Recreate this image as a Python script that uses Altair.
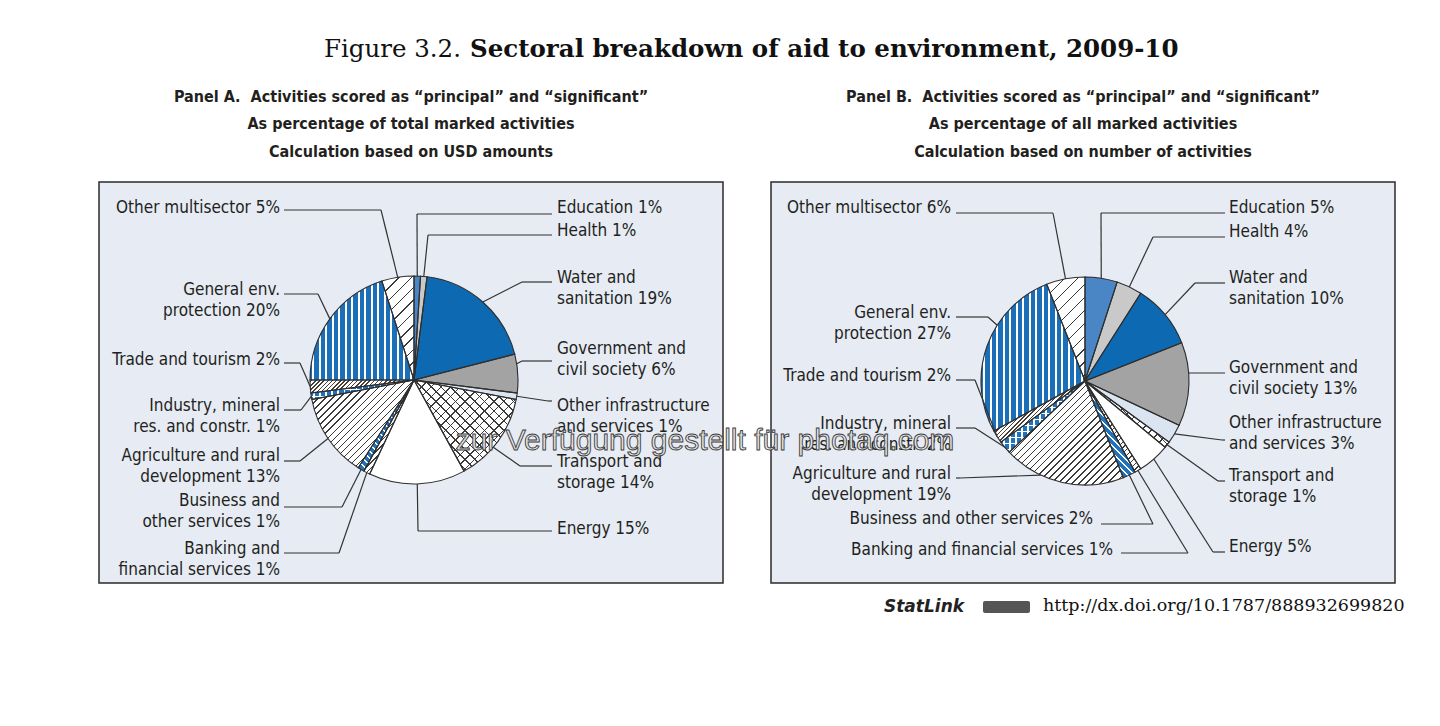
import altair as alt
import numpy as np
import pandas as pd

# ---------------- data ----------------
sectors = [
    "Education", "Health", "Water and sanitation", "Government and civil society",
    "Other infrastructure and services", "Transport and storage", "Energy",
    "Banking and financial services", "Business and other services",
    "Agriculture and rural development", "Industry, mineral res. and constr.",
    "Trade and tourism", "General env. protection", "Other multisector",
]
share_usd = [1, 1, 19, 6, 1, 14, 15, 1, 1, 13, 1, 2, 20, 5]      # Panel A (%)
share_count = [5, 4, 10, 13, 3, 1, 5, 1, 2, 19, 2, 2, 27, 6]     # Panel B (%)

labels_a = [
    "Education {}%", "Health {}%", "Water and|sanitation {}%", "Government and|civil society {}%",
    "Other infrastructure|and services {}%", "Transport and|storage {}%", "Energy {}%",
    "Banking and|financial services {}%", "Business and|other services {}%",
    "Agriculture and rural|development {}%", "Industry, mineral|res. and constr. {}%",
    "Trade and tourism {}%", "General env.|protection {}%", "Other multisector {}%",
]
labels_b = [
    "Education {}%", "Health {}%", "Water and|sanitation {}%", "Government and|civil society {}%",
    "Other infrastructure|and services {}%", "Transport and|storage {}%", "Energy {}%",
    "Banking and financial services {}%", "Business and other services {}%",
    "Agriculture and rural|development {}%", "Industry, mineral|res. and constr. {}%",
    "Trade and tourism {}%", "General env.|protection {}%", "Other multisector {}%",
]

title_lead = "Figure 3.2."
title_main = "Sectoral breakdown of aid to environment, 2009-10"
subtitle_a = ["Panel A.\u00a0 Activities scored as \u201cprincipal\u201d and \u201csignificant\u201d",
              "As percentage of total marked activities",
              "Calculation based on USD amounts"]
subtitle_b = ["Panel B.\u00a0 Activities scored as \u201cprincipal\u201d and \u201csignificant\u201d",
              "As percentage of all marked activities",
              "Calculation based on number of activities"]
statlink_label = "StatLink"
statlink_url = "http://dx.doi.org/10.1787/888932699820"
watermark = "zur Verf\u00fcgung gestellt f\u00fcr photaq.com"

# ---------------- layout & style ----------------
W, H = 1424, 710
R = 104
LH = 20.5
PANELS = {
    "A": dict(values=share_usd, labels=labels_a, cx=414, cy=380, box=(99, 182, 723, 583),
              sub_x=411, subs=subtitle_a),
    "B": dict(values=share_count, labels=labels_b, cx=1085, cy=381, box=(771, 182, 1395, 583),
              sub_x=1083, subs=subtitle_b),
}
SUB_Y = [97, 124, 152]
# (text x, first line y, align, leader y, elbow x, leader end x, anchor pct override)
LAYOUT = {
    "A": [
        (557, 208, "left", 214, 417, 552, None),
        (557, 231, "left", 235, 428, 552, None),
        (557, 278, "left", 282, 522, 552, None),
        (557, 349, "left", 361, 522, 552, 22.5),
        (557, 406, "left", 401, 548, 552, None),
        (557, 462, "left", 466, 520, 552, 36.2),
        (557, 529, "left", 531, 418, 552, None),
        (280, 549, "right", 553, 339, 284, None),
        (280, 501, "right", 507, 342, 284, None),
        (280, 456, "right", 461, 300, 284, None),
        (280, 406, "right", 410, 301, 284, None),
        (280, 360, "right", 363, 300, 284, None),
        (280, 290, "right", 294, 318, 284, None),
        (280, 208, "right", 210, 381, 284, None),
    ],
    "B": [
        (1229, 208, "left", 213, 1101, 1225, None),
        (1229, 232, "left", 237, 1153, 1225, None),
        (1229, 278, "left", 283, 1195, 1225, None),
        (1229, 368, "left", 373, 1190, 1225, 23.8),
        (1229, 423, "left", 440, 1222, 1225, None),
        (1229, 476, "left", 481, 1218, 1225, None),
        (1229, 547, "left", 552, 1213, 1225, None),
        (1113, 550, "right", 553, 1188, 1121, None),
        (1093, 519, "right", 524, 1153, 1101, None),
        (951, 474, "right", 478, 960, 956, 57),
        (951, 424, "right", 428, 975, 956, None),
        (951, 376, "right", 380, 975, 956, None),
        (951, 313, "right", 317, 988, 956, 84),
        (951, 208, "right", 213, 1053, 956, None),
    ],
}
DARK = "#3a3a3a"
STYLE = [
    ("#4a86c5", []),
    ("#c9c9c9", []),
    ("#0d69b2", []),
    ("#a3a3a3", []),
    ("#dbe4f1", []),
    ("#ffffff", [("fwd", DARK, 7, 1.0), ("back", DARK, 7, 1.0)]),
    ("#ffffff", []),
    ("#ffffff", [("fwd", DARK, 4, 1.0)]),
    ("#1f72bd", [("back", "#ffffff", 5, 1.6)]),
    ("#ffffff", [("fwd", DARK, 5, 1.0)]),
    ("#1f72bd", [("vert", "#ffffff", 6, 1.3), ("horz", "#ffffff", 6, 1.3)]),
    ("#ffffff", [("fwd", "#4a3f38", 3, 1.1)]),
    ("#1b6fb8", [("vert", "#ffffff", 6.5, 1.7)]),
    ("#ffffff", [("fwd", DARK, 9, 1.0)]),
]
BG = "#e6ebf4"
LABEL_FONT = "'Liberation Sans Narrow', 'Arial Narrow', 'DejaVu Sans Condensed', sans-serif"
TEXT_COLOR = "#231f20"

XS = alt.Scale(domain=[8, 8 + W], nice=False, zero=False)
YS = alt.Scale(domain=[8 + H, 8], nice=False, zero=False)
TS = alt.Scale(domain=[0, 100], range=[0, 2 * np.pi], nice=False, zero=False)


def X(f):
    return alt.X(f"{f}:Q", scale=XS, axis=None)


def Y(f):
    return alt.Y(f"{f}:Q", scale=YS, axis=None)


def wedge_bbox(a0, a1):
    angs = [a0, a1] + [k * np.pi / 2 for k in range(5) if a0 < k * np.pi / 2 < a1]
    xs = [0.0] + [R * np.sin(a) for a in angs]
    ys = [0.0] + [-R * np.cos(a) for a in angs]
    return max(max(xs) - min(xs), 1.0), max(max(ys) - min(ys), 1.0)


def stripe_gradient(kind, color, spacing, lw, w, h):
    if kind == "vert":
        n = max(1, int(round(w / spacing)))
        period = w / n
        x1, y1, x2, y2 = 0, 0, 1, 0
    elif kind == "horz":
        n = max(1, int(round(h / spacing)))
        period = h / n
        x1, y1, x2, y2 = 0, 0, 0, 1
    else:
        lam = (w + h) / (w * w + h * h)
        n = max(1, int(round((w + h) / (spacing * np.sqrt(2)))))
        period = (w + h) / (n * np.sqrt(2))
        if kind == "fwd":
            x1, y1, x2, y2 = 0, 0, lam * w, lam * h
        else:
            x1, y1, x2, y2 = 0, 1, lam * w, 1 - lam * h
    f = min(0.8, lw / period)
    clear = "rgba(255,255,255,0)"
    stops = [{"offset": 0, "color": clear}]
    for k in range(n):
        s0 = (k + 0.5 - f / 2) / n
        s1 = (k + 0.5 + f / 2) / n
        stops += [{"offset": s0, "color": clear}, {"offset": s0, "color": color},
                  {"offset": s1, "color": color}, {"offset": s1, "color": clear}]
    stops.append({"offset": 1, "color": clear})
    return {"gradient": "linear", "x1": float(x1), "y1": float(y1), "x2": float(x2),
            "y2": float(y2), "stops": stops}


# ---------------- build tables ----------------
arc_rows, lead_rows, text_rows = [], [], []
overlays = []
for p, cfg in PANELS.items():
    vals = np.array(cfg["values"], dtype=float)
    ends = np.cumsum(vals)
    starts = ends - vals
    for i, sec in enumerate(sectors):
        key = f"{p}{i}"
        arc_rows.append(dict(key=key, panel=p, sector=sec, cx=cfg["cx"], cy=cfg["cy"],
                             start=starts[i], end=ends[i], fillc=STYLE[i][0]))
        a0, a1 = starts[i] / 100 * 2 * np.pi, ends[i] / 100 * 2 * np.pi
        w, h = wedge_bbox(a0, a1)
        for spec in STYLE[i][1]:
            overlays.append((key, stripe_gradient(*spec, w, h)))
        tx, ty, al, ly, ex, ls, apct = LAYOUT[p][i]
        mid = (starts[i] + ends[i]) / 2 if apct is None else apct
        ang = mid / 100 * 2 * np.pi
        ax = cfg["cx"] + R * np.sin(ang)
        ay = cfg["cy"] - R * np.cos(ang)
        lead_rows.append(dict(ax=ax, ay=ay, ex=ex, ly=ly, ls=ls))
        for j, line in enumerate(cfg["labels"][i].format(int(vals[i])).split("|")):
            text_rows.append(dict(x=tx, y=ty + j * LH, text=line, align=al))

arcs = pd.DataFrame(arc_rows)
leads = pd.DataFrame(lead_rows)
texts = pd.DataFrame(text_rows)
boxes = pd.DataFrame([dict(x=c["box"][0], y=c["box"][1], x2=c["box"][2], y2=c["box"][3])
                      for c in PANELS.values()])
subs = pd.DataFrame([dict(x=c["sub_x"], y=SUB_Y[j], text=s)
                     for c in PANELS.values() for j, s in enumerate(c["subs"])])

# ---------------- layers ----------------
layers = []
layers.append(alt.Chart(boxes).mark_rect(fill=BG, stroke="#2b2b2b", strokeWidth=1.5).encode(
    x=X("x"), x2="x2", y=Y("y"), y2="y2"))

arc_enc = dict(x=X("cx"), y=Y("cy"),
               theta=alt.Theta("start:Q", scale=TS, stack=None), theta2="end")
layers.append(alt.Chart(arcs).mark_arc(radius=R).encode(
    fill=alt.Fill("fillc:N", scale=None, legend=None), **arc_enc))
for key, grad in overlays:
    layers.append(alt.Chart(arcs).transform_filter(f"datum.key == '{key}'")
                  .mark_arc(radius=R, fill=grad).encode(**arc_enc))
layers.append(alt.Chart(arcs).mark_arc(radius=R, fillOpacity=0, stroke="#2e2e2e",
                                       strokeWidth=1.1).encode(**arc_enc))

layers.append(alt.Chart(leads).mark_rule(color="#333333", strokeWidth=1.2).encode(
    x=X("ax"), y=Y("ay"), x2="ex", y2="ly"))
layers.append(alt.Chart(leads).mark_rule(color="#333333", strokeWidth=1.2).encode(
    x=X("ex"), y=Y("ly"), x2="ls", y2="ly"))

for al in ["left", "right"]:
    layers.append(alt.Chart(texts).transform_filter(f"datum.align == '{al}'").mark_text(
        align=al, baseline="middle", font=LABEL_FONT, fontSize=17, color=TEXT_COLOR).encode(
        x=X("x"), y=Y("y"), text="text:N"))

layers.append(alt.Chart(subs).mark_text(
    align="center", baseline="middle", font=LABEL_FONT, fontSize=16, fontWeight="bold",
    color=TEXT_COLOR).encode(x=X("x"), y=Y("y"), text="text:N"))

title_df = pd.DataFrame([dict(x=461, y=50, text=title_lead)])
title2_df = pd.DataFrame([dict(x=470, y=50, text=title_main)])
layers.append(alt.Chart(title_df).mark_text(
    align="right", baseline="middle", font="'DejaVu Serif', serif", fontSize=24.5,
    color="#111111").encode(x=X("x"), y=Y("y"), text="text:N"))
layers.append(alt.Chart(title2_df).mark_text(
    align="left", baseline="middle", font="'DejaVu Serif', serif", fontSize=24.5,
    fontWeight="bold", color="#111111").encode(x=X("x"), y=Y("y"), text="text:N"))

# StatLink line
sl_df = pd.DataFrame([dict(x=884, y=607, text=statlink_label)])
icon_df = pd.DataFrame([dict(x=983, y=601, x2=1030, y2=613)])
url_df = pd.DataFrame([dict(x=1043, y=606, text=statlink_url)])
layers.append(alt.Chart(sl_df).mark_text(
    align="left", baseline="middle", font="'DejaVu Sans', sans-serif", fontSize=17,
    fontWeight="bold", fontStyle="italic", color="#222222").encode(
    x=X("x"), y=Y("y"), text="text:N"))
layers.append(alt.Chart(icon_df).mark_rect(fill="#555555", cornerRadius=2).encode(
    x=X("x"), x2="x2", y=Y("y"), y2="y2"))
layers.append(alt.Chart(url_df).mark_text(
    align="left", baseline="middle", font="'DejaVu Serif', serif", fontSize=17.5,
    color="#111111").encode(x=X("x"), y=Y("y"), text="text:N"))

wm_df = pd.DataFrame([dict(x=705, y=441, text=watermark)])
layers.append(alt.Chart(wm_df).mark_text(
    align="center", baseline="middle", font="'Liberation Sans', Arial, sans-serif",
    fontSize=30, fill="#e4e4e4", stroke="#3c3c3c", strokeWidth=0.9).encode(
    x=X("x"), y=Y("y"), text="text:N"))

chart = alt.layer(*layers).properties(
    width=W, height=H, padding=0, background="white",
    autosize=alt.AutoSizeParams(type="none"),
).configure_view(stroke=None)

chart.save("out.html", embed_options={"renderer": "svg", "actions": False})
